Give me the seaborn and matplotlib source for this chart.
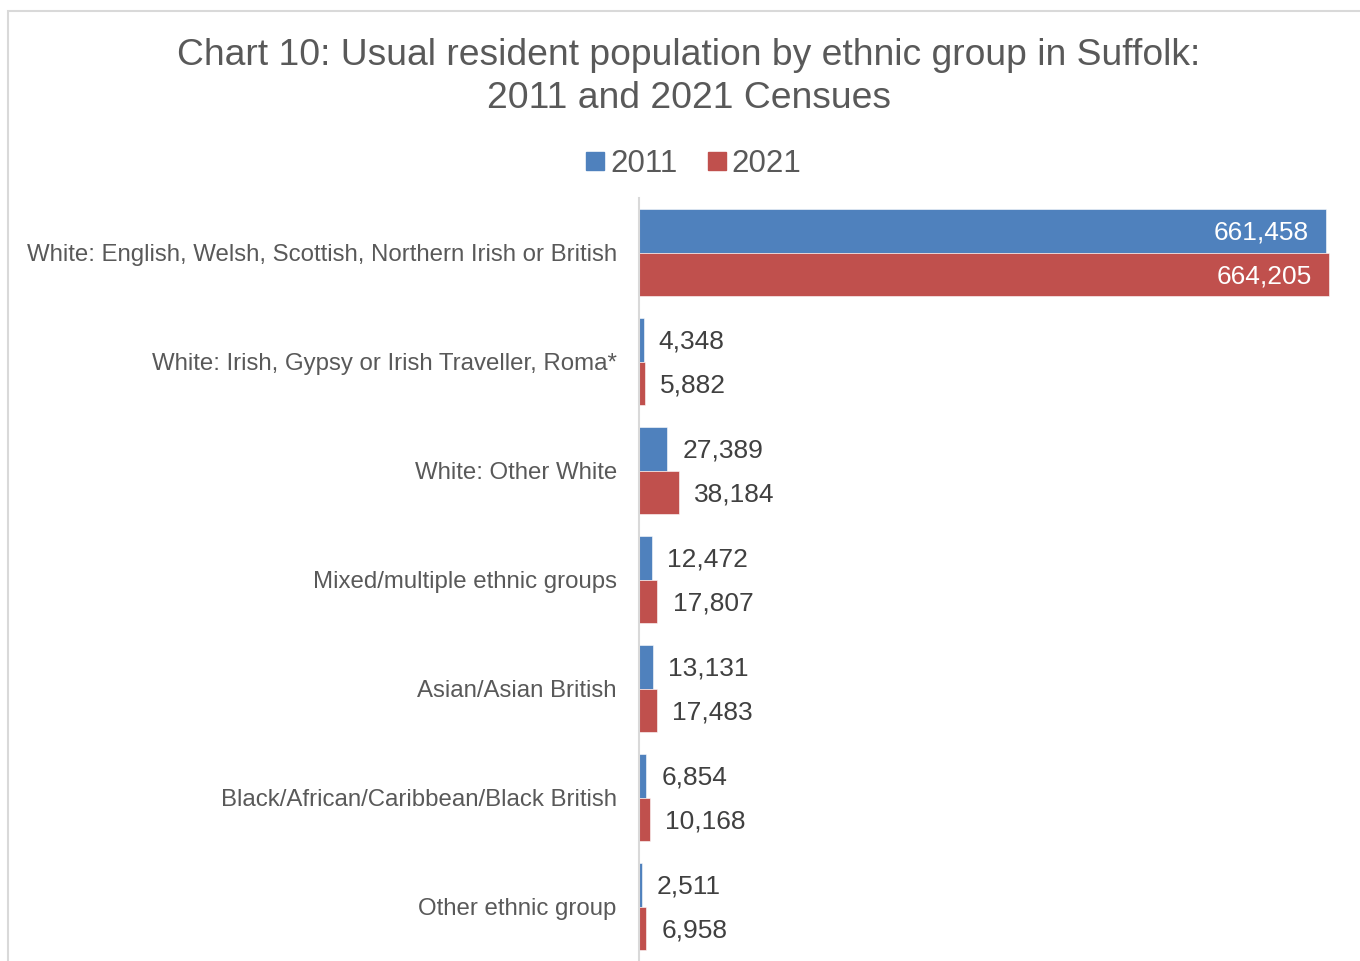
import matplotlib
matplotlib.use("Agg")
import matplotlib.pyplot as plt
import seaborn as sns
import pandas as pd
from matplotlib.patches import Rectangle

categories = [
    "White: English, Welsh, Scottish, Northern Irish or British",
    "White: Irish, Gypsy or Irish Traveller, Roma*",
    "White: Other White",
    "Mixed/multiple ethnic groups",
    "Asian/Asian British",
    "Black/African/Caribbean/Black British",
    "Other ethnic group",
]
values_2011 = [661458, 4348, 27389, 12472, 13131, 6854, 2511]
values_2021 = [664205, 5882, 38184, 17807, 17483, 10168, 6958]
years = ["2011", "2021"]

df = pd.DataFrame({
    "category": categories * 2,
    "value": values_2011 + values_2021,
    "year": [years[0]] * len(categories) + [years[1]] * len(categories),
})

sns.set_theme(style="white")
plt.rcParams["font.family"] = ["Liberation Sans", "DejaVu Sans"]

W, H = 1360, 961
fig = plt.figure(figsize=(W / 100, H / 100), dpi=100)
ax = fig.add_axes([639 / W, 0, (1345 - 639) / W, (H - 198) / H])

palette = {"2011": "#4F81BD", "2021": "#C0504D"}
sns.barplot(data=df, y="category", x="value", hue="year", order=categories,
            hue_order=years, palette=palette, orient="h", width=0.8,
            saturation=1, edgecolor="white", linewidth=0.4, ax=ax, legend=False)

ax.set_xlim(0, 680000)
ax.set_ylim(len(categories) - 0.5, -0.5)
ax.set_xlabel("")
ax.set_ylabel("")
ax.set_xticks([])
ax.tick_params(axis="y", length=0, pad=16, labelsize=17.3, labelcolor="#595959")
for s in ["top", "right", "bottom"]:
    ax.spines[s].set_visible(False)
ax.spines["left"].set_color("#D9D9D9")
ax.spines["left"].set_linewidth(1.5)

for cont in ax.containers:
    for patch in cont:
        w = patch.get_width()
        yc = patch.get_y() + patch.get_height() / 2
        txt = f"{int(round(w)):,}"
        if w > 300000:
            ax.annotate(txt, xy=(w, yc), xytext=(-12, -1.5), textcoords="offset points",
                        ha="right", va="center", fontsize=19, color="white")
        else:
            ax.annotate(txt, xy=(w, yc), xytext=(11, -1.5), textcoords="offset points",
                        ha="left", va="center", fontsize=19, color="#404040")

fig.text(689 / W, 1 - 77 / H,
         "Chart 10: Usual resident population by ethnic group in Suffolk:\n2011 and 2021 Censues",
         ha="center", va="center", fontsize=26.8, color="#595959", linespacing=1.27)

handles = [Rectangle((0, 0), 1, 1, color=palette[y]) for y in years]
fig.legend(handles, years, loc="center", bbox_to_anchor=(694 / W, 1 - 164 / H),
           ncol=2, frameon=False, fontsize=22.5, labelcolor="#595959",
           handlelength=0.55, handleheight=0.55, handletextpad=0.2, columnspacing=1.0)

fig.patches.append(Rectangle((8 / W, -0.05), 1.1, 1 - 11 / H + 0.05,
                             transform=fig.transFigure, fill=False,
                             edgecolor="#D9D9D9", linewidth=1.5))

fig.savefig("out.png", dpi=100, facecolor="white")
